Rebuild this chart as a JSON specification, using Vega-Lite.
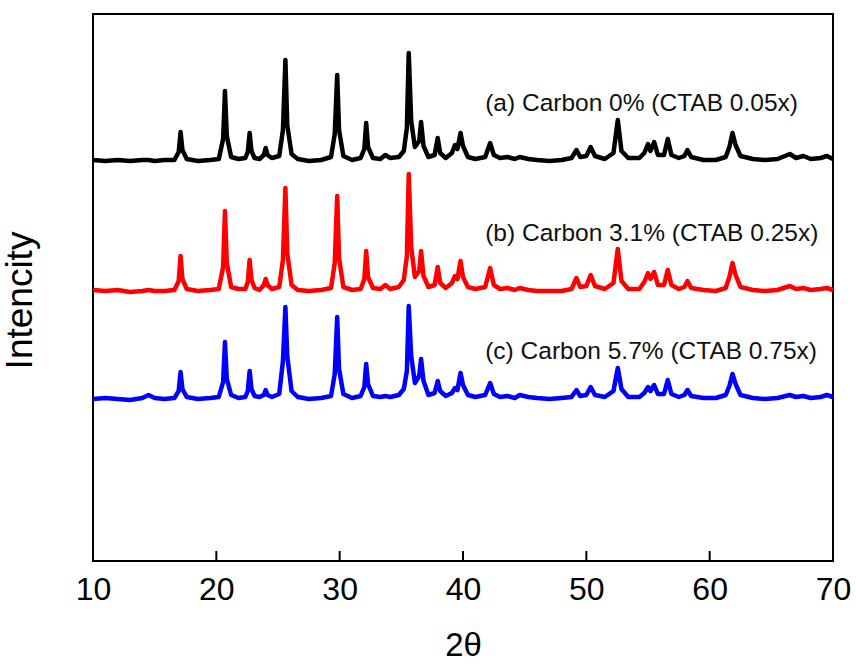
{
  "$schema": "https://vega.github.io/schema/vega-lite/v6.json",
  "width": 740,
  "height": 547,
  "autosize": "none",
  "padding": {"left": 93, "top": 14, "right": 23, "bottom": 103},
  "background": "white",
  "config": {
    "view": {"stroke": "#000000", "strokeWidth": 2},
    "font": "Liberation Sans",
    "axis": {"labelFont": "Liberation Sans", "titleFont": "Liberation Sans", "labelColor": "#000", "titleColor": "#000", "titleFontWeight": "normal", "grid": false, "domain": false}
  },
  "layer": [
    {
      "data": {"values": [
        {"x": 10.0, "a": 401, "b": 271, "c": 162},
        {"x": 11.0, "a": 400, "b": 270, "c": 163},
        {"x": 12.0, "a": 401, "b": 271, "c": 162},
        {"x": 13.0, "a": 400, "b": 269, "c": 161},
        {"x": 14.0, "a": 401, "b": 270, "c": 163},
        {"x": 14.5, "a": 401, "b": 271, "c": 166},
        {"x": 15.0, "a": 400, "b": 270, "c": 163},
        {"x": 15.8, "a": 401, "b": 270, "c": 162},
        {"x": 16.6, "a": 401, "b": 271, "c": 163},
        {"x": 16.95, "a": 409, "b": 280, "c": 170},
        {"x": 17.1, "a": 429, "b": 305, "c": 189},
        {"x": 17.25, "a": 411, "b": 282, "c": 172},
        {"x": 17.6, "a": 402, "b": 272, "c": 164},
        {"x": 18.5, "a": 400, "b": 270, "c": 162},
        {"x": 19.5, "a": 401, "b": 271, "c": 163},
        {"x": 20.2, "a": 402, "b": 272, "c": 164},
        {"x": 20.55, "a": 422, "b": 294, "c": 179},
        {"x": 20.7, "a": 470, "b": 350, "c": 219},
        {"x": 20.85, "a": 425, "b": 298, "c": 182},
        {"x": 21.2, "a": 404, "b": 274, "c": 166},
        {"x": 21.8, "a": 402, "b": 272, "c": 163},
        {"x": 22.35, "a": 403, "b": 272, "c": 164},
        {"x": 22.55, "a": 409, "b": 279, "c": 170},
        {"x": 22.7, "a": 428, "b": 301, "c": 190},
        {"x": 22.85, "a": 410, "b": 281, "c": 172},
        {"x": 23.1, "a": 403, "b": 273, "c": 165},
        {"x": 23.5, "a": 402, "b": 271, "c": 164},
        {"x": 23.85, "a": 406, "b": 276, "c": 166},
        {"x": 24.0, "a": 413, "b": 282, "c": 171},
        {"x": 24.15, "a": 406, "b": 276, "c": 166},
        {"x": 24.5, "a": 403, "b": 272, "c": 164},
        {"x": 25.1, "a": 405, "b": 274, "c": 167},
        {"x": 25.4, "a": 431, "b": 301, "c": 200},
        {"x": 25.6, "a": 501, "b": 373, "c": 254},
        {"x": 25.75, "a": 436, "b": 308, "c": 205},
        {"x": 26.1, "a": 407, "b": 276, "c": 170},
        {"x": 26.6, "a": 402, "b": 271, "c": 164},
        {"x": 27.5, "a": 400, "b": 270, "c": 162},
        {"x": 28.5, "a": 401, "b": 271, "c": 163},
        {"x": 29.3, "a": 404, "b": 273, "c": 165},
        {"x": 29.6, "a": 427, "b": 298, "c": 187},
        {"x": 29.8, "a": 486, "b": 365, "c": 244},
        {"x": 29.95, "a": 431, "b": 303, "c": 192},
        {"x": 30.3, "a": 405, "b": 274, "c": 167},
        {"x": 31.0, "a": 401, "b": 271, "c": 163},
        {"x": 31.7, "a": 403, "b": 272, "c": 165},
        {"x": 32.0, "a": 412, "b": 282, "c": 174},
        {"x": 32.15, "a": 438, "b": 310, "c": 197},
        {"x": 32.3, "a": 414, "b": 284, "c": 177},
        {"x": 32.7, "a": 403, "b": 273, "c": 165},
        {"x": 33.3, "a": 402, "b": 272, "c": 164},
        {"x": 33.7, "a": 406, "b": 276, "c": 165},
        {"x": 34.1, "a": 403, "b": 272, "c": 164},
        {"x": 34.8, "a": 404, "b": 274, "c": 166},
        {"x": 35.2, "a": 410, "b": 281, "c": 172},
        {"x": 35.45, "a": 433, "b": 305, "c": 190},
        {"x": 35.6, "a": 508, "b": 387, "c": 255},
        {"x": 35.8, "a": 440, "b": 314, "c": 205},
        {"x": 36.1, "a": 414, "b": 284, "c": 178},
        {"x": 36.45, "a": 420, "b": 290, "c": 185},
        {"x": 36.6, "a": 439, "b": 310, "c": 202},
        {"x": 36.8, "a": 415, "b": 285, "c": 180},
        {"x": 37.2, "a": 404, "b": 274, "c": 166},
        {"x": 37.7, "a": 406, "b": 276, "c": 168},
        {"x": 37.95, "a": 423, "b": 294, "c": 180},
        {"x": 38.15, "a": 408, "b": 278, "c": 170},
        {"x": 38.6, "a": 403, "b": 273, "c": 165},
        {"x": 39.1, "a": 408, "b": 278, "c": 168},
        {"x": 39.35, "a": 416, "b": 285, "c": 173},
        {"x": 39.55, "a": 412, "b": 282, "c": 171},
        {"x": 39.8, "a": 428, "b": 300, "c": 188},
        {"x": 40.0, "a": 415, "b": 284, "c": 176},
        {"x": 40.4, "a": 404, "b": 274, "c": 166},
        {"x": 41.0, "a": 402, "b": 272, "c": 164},
        {"x": 41.8, "a": 404, "b": 274, "c": 166},
        {"x": 42.2, "a": 418, "b": 293, "c": 178},
        {"x": 42.5, "a": 406, "b": 276, "c": 167},
        {"x": 43.0, "a": 403, "b": 272, "c": 164},
        {"x": 43.6, "a": 404, "b": 273, "c": 165},
        {"x": 44.2, "a": 402, "b": 271, "c": 163},
        {"x": 44.6, "a": 404, "b": 273, "c": 166},
        {"x": 45.3, "a": 402, "b": 271, "c": 164},
        {"x": 46.0, "a": 401, "b": 270, "c": 163},
        {"x": 47.0, "a": 400, "b": 270, "c": 162},
        {"x": 48.0, "a": 401, "b": 270, "c": 163},
        {"x": 48.8, "a": 403, "b": 272, "c": 164},
        {"x": 49.2, "a": 411, "b": 283, "c": 171},
        {"x": 49.5, "a": 404, "b": 274, "c": 165},
        {"x": 50.0, "a": 405, "b": 275, "c": 166},
        {"x": 50.35, "a": 414, "b": 286, "c": 174},
        {"x": 50.7, "a": 405, "b": 275, "c": 166},
        {"x": 51.5, "a": 402, "b": 272, "c": 164},
        {"x": 52.2, "a": 408, "b": 278, "c": 170},
        {"x": 52.55, "a": 441, "b": 312, "c": 193},
        {"x": 52.85, "a": 410, "b": 280, "c": 172},
        {"x": 53.4, "a": 403, "b": 272, "c": 164},
        {"x": 54.3, "a": 403, "b": 272, "c": 164},
        {"x": 54.7, "a": 408, "b": 279, "c": 168},
        {"x": 55.0, "a": 417, "b": 288, "c": 174},
        {"x": 55.2, "a": 410, "b": 282, "c": 170},
        {"x": 55.5, "a": 419, "b": 289, "c": 176},
        {"x": 55.8, "a": 406, "b": 276, "c": 167},
        {"x": 56.3, "a": 406, "b": 276, "c": 167},
        {"x": 56.6, "a": 422, "b": 291, "c": 181},
        {"x": 56.9, "a": 406, "b": 276, "c": 167},
        {"x": 57.5, "a": 403, "b": 272, "c": 164},
        {"x": 57.95, "a": 405, "b": 274, "c": 166},
        {"x": 58.2, "a": 411, "b": 280, "c": 171},
        {"x": 58.5, "a": 404, "b": 273, "c": 165},
        {"x": 59.5, "a": 401, "b": 271, "c": 163},
        {"x": 60.5, "a": 401, "b": 270, "c": 163},
        {"x": 61.3, "a": 404, "b": 273, "c": 166},
        {"x": 61.6, "a": 414, "b": 284, "c": 175},
        {"x": 61.85, "a": 428, "b": 298, "c": 187},
        {"x": 62.1, "a": 416, "b": 286, "c": 177},
        {"x": 62.5, "a": 405, "b": 274, "c": 166},
        {"x": 63.5, "a": 402, "b": 271, "c": 163},
        {"x": 64.5, "a": 401, "b": 270, "c": 162},
        {"x": 65.5, "a": 402, "b": 271, "c": 163},
        {"x": 66.5, "a": 407, "b": 275, "c": 166},
        {"x": 67.0, "a": 403, "b": 272, "c": 164},
        {"x": 67.6, "a": 405, "b": 273, "c": 165},
        {"x": 68.2, "a": 402, "b": 271, "c": 163},
        {"x": 69.0, "a": 403, "b": 272, "c": 164},
        {"x": 69.5, "a": 405, "b": 273, "c": 166},
        {"x": 70.0, "a": 402, "b": 271, "c": 164}
      ]},
      "transform": [{"fold": ["a", "b", "c"], "as": ["sample", "intensity"]}],
      "mark": {"type": "line", "strokeWidth": 4.5, "strokeJoin": "round"},
      "encoding": {
        "x": {"field": "x", "type": "quantitative", "scale": {"domain": [10, 70], "nice": false},
          "axis": {"title": "2θ", "values": [10, 20, 30, 40, 50, 60, 70], "ticks": false, "labelFontSize": 32, "labelPadding": 13, "titleFontSize": 33, "titlePadding": 24, "labelFlush": false}},
        "y": {"field": "intensity", "type": "quantitative", "scale": {"domain": [0, 547], "nice": false, "zero": false},
          "axis": {"title": "Intencity", "labels": false, "ticks": false, "titleFontSize": 37, "titlePadding": 54, "titleY": 286}},
        "color": {"field": "sample", "type": "nominal", "scale": {"domain": ["a", "b", "c"], "range": ["#000000", "#ff0000", "#0000ff"]}, "legend": null}
      }
    },
    {
      "data": {"values": [
        {"pos": 20, "lowv": 0, "highv": 10},
        {"pos": 30, "lowv": 0, "highv": 10},
        {"pos": 40, "lowv": 0, "highv": 10},
        {"pos": 50, "lowv": 0, "highv": 10},
        {"pos": 60, "lowv": 0, "highv": 10}
      ]},
      "mark": {"type": "rule", "strokeWidth": 2, "stroke": "#000000"},
      "encoding": {
        "x": {"field": "pos", "type": "quantitative"},
        "y": {"field": "lowv", "type": "quantitative"},
        "y2": {"field": "highv"}
      }
    },
    {
      "data": {"values": [
        {"x": 41.8, "y": 450, "label": "(a) Carbon 0% (CTAB 0.05x)"},
        {"x": 41.8, "y": 320, "label": "(b) Carbon 3.1% (CTAB 0.25x)"},
        {"x": 41.8, "y": 202, "label": "(c) Carbon 5.7% (CTAB 0.75x)"}
      ]},
      "mark": {"type": "text", "align": "left", "baseline": "alphabetic", "fontSize": 24.5, "font": "Liberation Sans", "color": "#111111"},
      "encoding": {
        "x": {"field": "x", "type": "quantitative"},
        "y": {"field": "y", "type": "quantitative"},
        "text": {"field": "label"}
      }
    }
  ]
}
